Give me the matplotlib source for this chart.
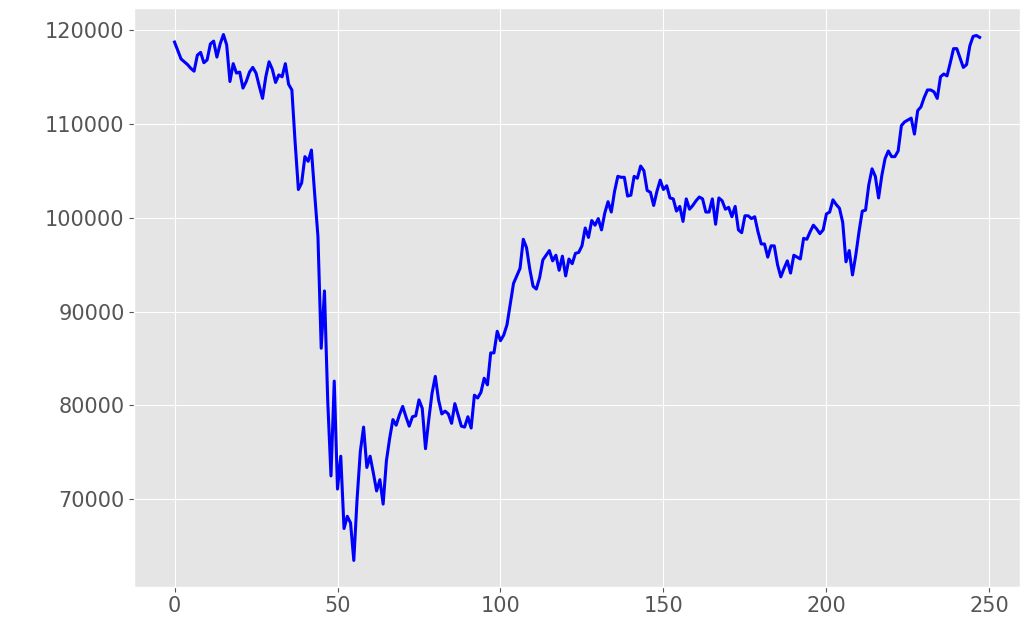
import matplotlib
matplotlib.use('Agg')
import matplotlib.pyplot as plt

# portfolio value per day
values = [
    118700, 117800, 116900, 116600, 116300, 115900, 115600, 117300, 117600, 116500,
    116800, 118500, 118800, 117100, 118500, 119500, 118400, 114500, 116400, 115400,
    115500, 113800, 114500, 115500, 116000, 115400, 114000, 112700, 115000, 116600,
    115800, 114400, 115200, 115000, 116400, 114200, 113600, 108000, 103000, 103700,
    106500, 106000, 107200, 102500, 98000, 86100, 92200, 80500, 72500, 82600,
    71100, 74600, 66900, 68200, 67500, 63500, 70000, 75100, 77700, 73400,
    74600, 72800, 70900, 72100, 69500, 74100, 76500, 78500, 77900, 79000,
    79900, 78800, 77800, 78800, 78900, 80600, 79700, 75400, 78500, 81300,
    83100, 80600, 79100, 79400, 79100, 78100, 80200, 79000, 77800, 77700,
    78800, 77600, 81100, 80800, 81400, 82900, 82200, 85600, 85600, 87900,
    86900, 87500, 88600, 90800, 93000, 93800, 94600, 97700, 96800, 94500,
    92700, 92400, 93600, 95500, 96000, 96500, 95400, 96000, 94400, 95900,
    93800, 95600, 95100, 96200, 96300, 97000, 98900, 97900, 99700, 99200,
    99900, 98700, 100500, 101700, 100600, 102800, 104400, 104300, 104300, 102300,
    102400, 104400, 104200, 105500, 105000, 102900, 102700, 101300, 102800, 104000,
    103000, 103400, 102100, 102000, 100700, 101200, 99600, 102000, 100900, 101300,
    101800, 102200, 102000, 100600, 100600, 102000, 99300, 102100, 101800, 100900,
    101100, 100100, 101200, 98700, 98400, 100200, 100200, 99900, 100100, 98500,
    97200, 97200, 95800, 97000, 97000, 95000, 93700, 94600, 95400, 94100,
    96000, 95800, 95600, 97800, 97700, 98500, 99200, 98800, 98300, 98700,
    100400, 100600, 101900, 101400, 101000, 99500, 95300, 96500, 93900, 96000,
    98500, 100700, 100800, 103500, 105200, 104400, 102100, 104500, 106300, 107100,
    106500, 106500, 107100, 109800, 110200, 110400, 110600, 108900, 111400, 111800,
    112800, 113600, 113600, 113400, 112700, 115000, 115300, 115100, 116500, 118000,
    118000, 117000, 116000, 116300, 118300, 119300, 119400, 119200,
]
days = list(range(len(values)))

plt.style.use('ggplot')
fig = plt.figure(figsize=(10.25, 6.35), dpi=100)
ax = fig.add_axes([0.131, 0.076, 0.864, 0.911])
ax.plot(days, values, color='blue', linewidth=2.2)
ax.tick_params(labelsize=15)
ax.set_xticks([0, 50, 100, 150, 200, 250])
ax.set_yticks([70000, 80000, 90000, 100000, 110000, 120000])
fig.savefig('out.png', dpi=100)
